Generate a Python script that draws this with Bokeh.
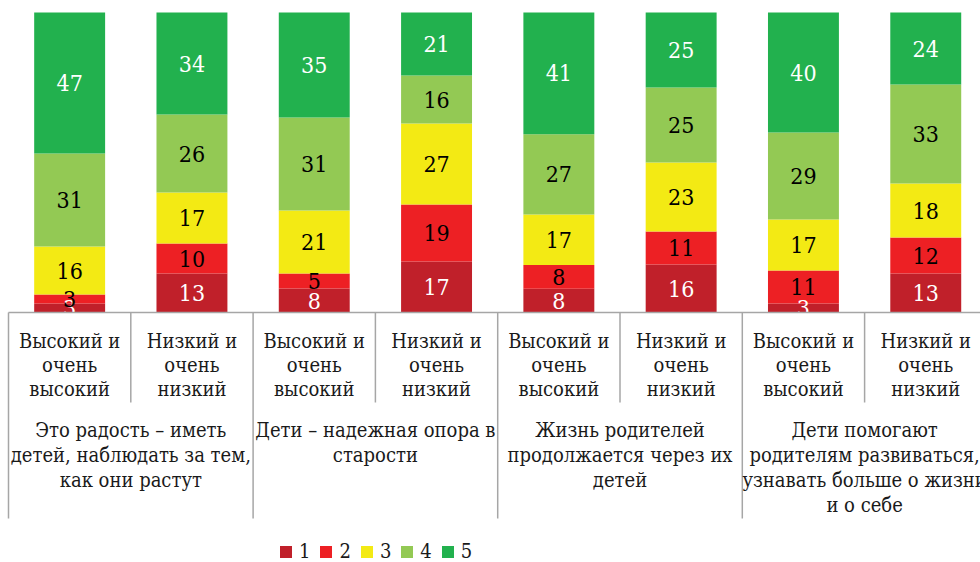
from bokeh.plotting import figure
from bokeh.models import Range1d, ColumnDataSource, Legend, LegendItem
from bokeh.core.properties import value
from bokeh.embed import file_html
from bokeh.resources import INLINE

# ---------------- data ----------------
sub_labels = ["Высокий и\nочень\nвысокий", "Низкий и\nочень\nнизкий"] * 4
group_labels = [
    "Это радость – иметь\nдетей, наблюдать за тем,\nкак они растут",
    "Дети – надежная опора в\nстарости",
    "Жизнь родителей\nпродолжается через их\nдетей",
    "Дети помогают\nродителям развиваться,\nузнавать больше о жизни\nи о себе",
]
series_names = ["1", "2", "3", "4", "5"]
s1 = [3, 13, 8, 17, 8, 16, 3, 13]
s2 = [3, 10, 5, 19, 8, 11, 11, 12]
s3 = [16, 17, 21, 27, 17, 23, 17, 18]
s4 = [31, 26, 31, 16, 27, 25, 29, 33]
s5 = [47, 34, 35, 21, 41, 25, 40, 24]
series = [s1, s2, s3, s4, s5]

colors = ["#C0202A", "#ED2024", "#F3EA14", "#93C954", "#22B14E"]
text_colors = ["white", "black", "black", "black", "white"]

# ---------------- layout ----------------
W, H = 980, 562
CAT_PX = 122.3
LEFT_PAD = 8
PX = 3.0                     # pixels per percent unit
TOP_PAD = 12                 # px from figure top to 100 %
n = len(s1)
y_top = 100 + TOP_PAD / PX
y_bot = y_top - H / PX
x_lo = -LEFT_PAD / CAT_PX
x_hi = x_lo + W / CAT_PX

SERIF_C = "DejaVu Serif Condensed"

p = figure(width=W, height=H, output_backend="svg", toolbar_location=None,
           x_range=Range1d(x_lo, x_hi), y_range=Range1d(y_bot, y_top),
           min_border=0, min_border_left=0, min_border_right=0,
           min_border_top=0, min_border_bottom=0)
p.xaxis.visible = False
p.yaxis.visible = False
p.xgrid.visible = False
p.ygrid.visible = False
p.outline_line_color = None
p.background_fill_color = "white"
p.border_fill_color = "white"

# 100 % stacked: normalise each bar to its total
totals = [sum(s[i] for s in series) for i in range(n)]
shares = [[s[i] * 100.0 / totals[i] for i in range(n)] for s in series]

xs = [i + 0.5 for i in range(n)]
data = {"x": xs}
for name, sh in zip(series_names, shares):
    data["s" + name] = sh
src = ColumnDataSource(data)

renderers = p.vbar_stack(["s" + nm for nm in series_names], x="x", width=0.58,
                         color=colors, line_color=None, source=src)

for k, s in enumerate(series):
    mids, txt = [], []
    for i in range(n):
        base = sum(shares[j][i] for j in range(k))
        mids.append(base + shares[k][i] / 2.0)
        txt.append(str(s[i]))
    p.text(x=xs, y=mids, text=txt, text_align="center", text_baseline="middle",
           text_font=value(SERIF_C), text_font_size="23px", text_color=text_colors[k])

# axis line
LINE = "#A6A6A6"
p.line(x=[0, x_hi], y=[0, 0], line_color=LINE, line_width=1.5)

# separators
short_len = 90 / PX
long_len = 206 / PX
for b in range(n + 1):
    ln = long_len if b % 2 == 0 else short_len
    p.line(x=[b, b], y=[0, -ln], line_color=LINE, line_width=1.5)

# sub labels
sx, sy, st = [], [], []
for i, lab in enumerate(sub_labels):
    for j, line in enumerate(lab.split("\n")):
        sx.append(xs[i])
        sy.append(-(28 + 24 * j) / PX)
        st.append(line)
p.text(x=sx, y=sy, text=st, text_align="center", text_baseline="middle",
       text_font=value(SERIF_C), text_font_size="20px", text_color="#1a1a1a")

# group labels
gx, gy, gt = [], [], []
for g, lab in enumerate(group_labels):
    for j, line in enumerate(lab.split("\n")):
        gx.append(2 * g + 1)
        gy.append(-(117 + 25 * j) / PX)
        gt.append(line)
p.text(x=gx, y=gy, text=gt, text_align="center", text_baseline="middle",
       text_font=value(SERIF_C), text_font_size="20px", text_color="#1a1a1a")

# legend
items = [LegendItem(label=nm, renderers=[r]) for nm, r in zip(series_names, renderers)]
legend = Legend(items=items, orientation="horizontal", location=(278, -1),
                glyph_width=15, glyph_height=15, label_standoff=6, spacing=8,
                label_width=10, label_height=15,
                label_text_font=SERIF_C, label_text_font_size="20px",
                label_text_color="#1a1a1a", border_line_color=None,
                background_fill_alpha=0, padding=4, margin=0)
p.add_layout(legend, "center")

open("out.html", "w").write(file_html(p, INLINE))
